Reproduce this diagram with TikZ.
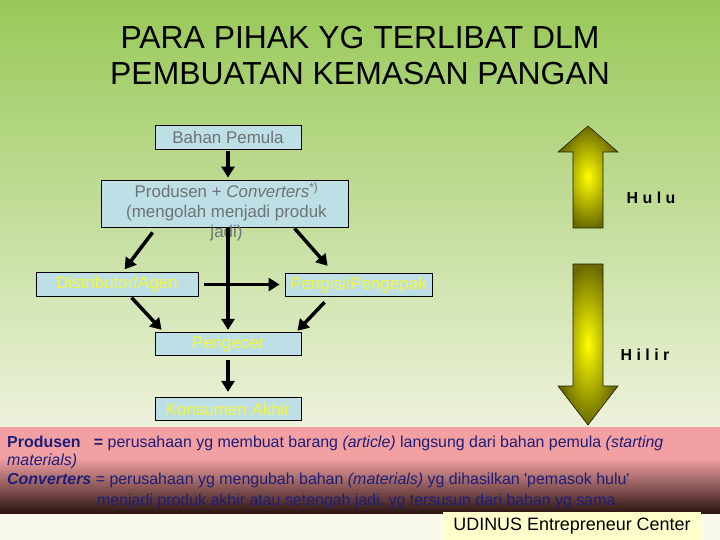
\documentclass[tikz,border=0pt]{standalone}
\usepackage{fontspec}
\setmainfont{Liberation Sans}
\usetikzlibrary{arrows.meta}
\definecolor{bgtop}{HTML}{98C958}
\definecolor{bgbot}{HTML}{EDF2DC}
\definecolor{cream}{HTML}{F9F9EC}
\definecolor{bandpink}{HTML}{F2A0A2}
\definecolor{banddark}{HTML}{2C1512}
\definecolor{boxblue}{HTML}{BDDFE5}
\definecolor{greytxt}{HTML}{6E7476}
\definecolor{yeltxt}{HTML}{F4F63A}
\definecolor{navy}{HTML}{1E1E78}
\definecolor{olivedark}{HTML}{6A6A00}
\definecolor{udcream}{HTML}{FFFFCC}
\tikzset{
  box/.style={draw=black, line width=0.8bp, fill=boxblue, inner sep=0pt, minimum height=23.5bp},
  boxtxt/.style={font=\fontsize{17}{20}\selectfont},
  flow/.style={line width=3.5bp, -{Triangle[length=11bp,width=13bp]}},
  bigarrow/.style={draw=black!70!olivedark, line width=0.6bp, shading=radial, inner color=yellow, outer color=olivedark},
  title/.style={font=\fontsize{32}{36}\selectfont, text=black},
  note/.style={font=\fontsize{16}{19}\selectfont, text=navy, anchor=base west, inner sep=0pt},
  side/.style={font=\fontsize{16}{19}\selectfont\bfseries, text=black}
}
\begin{document}
\begin{tikzpicture}[x=1bp,y=-1bp]
\useasboundingbox (0,0) rectangle (720,540);
% background
\shade[top color=bgtop, bottom color=bgbot] (0,0) rectangle (720,427);
\fill[cream] (0,513) rectangle (720,540);
\fill[bandpink] (0,427) rectangle (720,458);
\shade[top color=bandpink, bottom color=banddark] (0,458) rectangle (720,513);

% title
\node[title] (t1) at (360,38) {PARA PIHAK YG TERLIBAT DLM};
\node[title] (t2) at (360,74) {PEMBUATAN KEMASAN PANGAN};

% boxes
\node[box, minimum width=146bp, boxtxt, text=greytxt] (bahan) at (228,137.5) {Bahan Pemula};
\node[box, minimum width=247bp, minimum height=47bp] (prodbox) at (224.5,203.5) {};
\node[boxtxt, text=greytxt, align=center, inner sep=0pt] (prodtxt) at (226.5,212) {Produsen + \textit{Converters}\textsuperscript{*)}\\(mengolah menjadi produk\\jadi)};
\node[box, minimum width=162bp, boxtxt, text=yeltxt] (dist) at (117,284.5) {Distributor/Agen};
\node[box, minimum width=147bp, boxtxt, text=yeltxt] (pengisi) at (358.5,285) {Pengisi/Pengepak};
\node[box, minimum width=146bp, boxtxt, text=yeltxt] (pengecer) at (228,344) {Pengecer};
\node[box, minimum width=146bp, boxtxt, text=yeltxt] (konsumen) at (228,409) {Konsumen Akhir};

% connectors
\draw[flow, shorten <=1bp, shorten >=2bp] (bahan.south) -- (bahan.south |- prodbox.north);
\draw[flow] ([shift={(52,5)}]prodbox.south west) -- ([shift={(89,-3)}]dist.north west);
\draw[flow] ([shift={(194,1)}]prodbox.south west) -- ([shift={(43,-7)}]pengisi.north west);
\draw[flow, shorten >=2bp] (bahan.south |- prodbox.south) -- (pengecer.north);
\draw[flow, shorten <=6bp, shorten >=5bp] (dist.east) -- (dist.east -| pengisi.west);
\draw[flow] ([shift={(96,1)}]dist.south west) -- ([shift={(7,-2)}]pengecer.north west);
\draw[flow] ([shift={(40,5)}]pengisi.south west) -- ([shift={(-4,-1)}]pengecer.north east);
\draw[flow, shorten <=4bp, shorten >=5bp] (pengecer.south) -- (konsumen.north);

% side arrows
\path[bigarrow] (588,126) -- (618,152) -- (603,152) -- (603,228) -- (573,228) -- (573,152) -- (558,152) -- cycle;
\path[bigarrow] (573,264) -- (603,264) -- (603,386) -- (618,386) -- (588,425) -- (558,386) -- (573,386) -- cycle;
\node[side] (hulu) at (651,198) {H u l u};
\node[side] (hilir) at (645,355) {H i l i r};

% notes
\node[note] (n1) at (7,447) {\textbf{Produsen \ \ =} perusahaan yg membuat barang \textit{(article)} langsung dari bahan pemula \textit{(starting}};
\node[note] (n2) at (7,465) {\textit{materials)}};
\node[note] (n3) at (7,484) {\textbf{\textit{Converters}} = perusahaan yg mengubah bahan \textit{(materials)} yg dihasilkan \textquotesingle pemasok hulu\textquotesingle};
\node[note] (n4) at (97,505) {menjadi produk akhir atau setengah jadi, yg tersusun dari bahan yg sama.};

% footer
\node[fill=udcream, minimum width=258bp, minimum height=28bp, inner sep=0pt, font=\fontsize{18}{21}\selectfont] (ud) at (572,526) {UDINUS Entrepreneur Center};
\end{tikzpicture}
\end{document}
